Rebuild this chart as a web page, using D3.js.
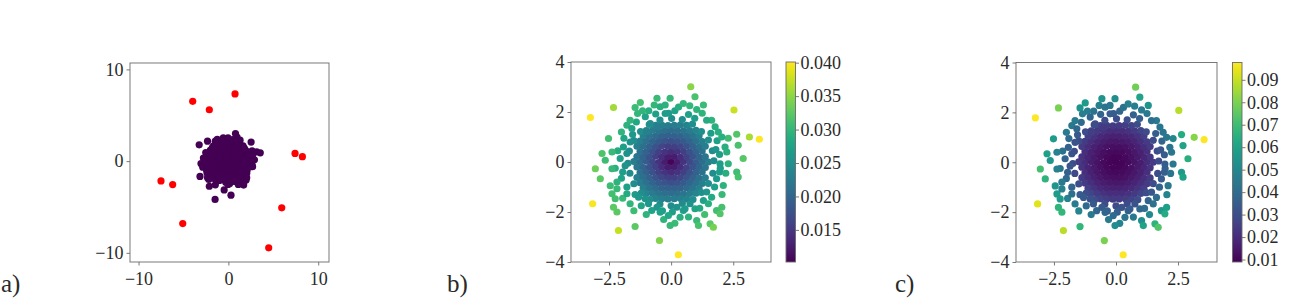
<!DOCTYPE html>
<html><head><meta charset="utf-8">
<script src="https://cdn.jsdelivr.net/npm/d3@7"></script>
<style>
body{margin:0;background:#fff}
svg text{font-family:"Liberation Serif","DejaVu Serif",serif;fill:#2a2a2a}
</style>
</head><body>
<svg id="fig" width="1299" height="299"></svg>
<script>
// ---------------- DATA ----------------
// cluster sample positions (shared by panels a, b, c)
const clusterXY = [
// core rows
[-1.50,0.02],[-1.25,-0.01],[-1.00,0.03],[-0.75,0.00],[-0.50,-0.02],[-0.25,0.01],[0.00,0.00],[0.25,-0.01],[0.50,0.02],[0.75,0.00],[1.00,-0.02],[1.25,0.01],[1.50,0.00],
[-1.375,0.22],[-1.125,0.20],[-0.875,0.21],[-0.625,0.23],[-0.375,0.20],[-0.125,0.21],[0.125,0.22],[0.375,0.19],[0.625,0.21],[0.875,0.22],[1.125,0.20],[1.375,0.21],
[-1.375,-0.20],[-1.125,-0.22],[-0.875,-0.21],[-0.625,-0.19],[-0.375,-0.21],[-0.125,-0.22],[0.125,-0.20],[0.375,-0.21],[0.625,-0.23],[0.875,-0.20],[1.125,-0.21],[1.375,-0.22],
[-1.25,0.42],[-1.00,0.41],[-0.75,0.43],[-0.50,0.42],[-0.25,0.40],[0.00,0.42],[0.25,0.43],[0.50,0.42],[0.75,0.41],[1.00,0.42],[1.25,0.44],
[-1.25,-0.43],[-1.00,-0.42],[-0.75,-0.41],[-0.50,-0.42],[-0.25,-0.44],[0.00,-0.42],[0.25,-0.41],[0.50,-0.42],[0.75,-0.43],[1.00,-0.42],[1.25,-0.40],
[-1.375,0.63],[-1.125,0.64],[-0.875,0.62],[-0.625,0.63],[-0.375,0.65],[-0.125,0.63],[0.125,0.62],[0.375,0.63],[0.625,0.64],[0.875,0.63],[1.125,0.61],[1.375,0.63],
[-1.375,-0.62],[-1.125,-0.63],[-0.875,-0.64],[-0.625,-0.63],[-0.375,-0.61],[-0.125,-0.63],[0.125,-0.64],[0.375,-0.63],[0.625,-0.62],[0.875,-0.63],[1.125,-0.65],[1.375,-0.63],
[-1.25,0.84],[-1.00,0.85],[-0.75,0.83],[-0.50,0.84],[-0.25,0.86],[0.00,0.84],[0.25,0.83],[0.50,0.84],[0.75,0.85],[1.00,0.84],[1.25,0.82],
[-1.25,-0.83],[-1.00,-0.84],[-0.75,-0.85],[-0.50,-0.84],[-0.25,-0.82],[0.00,-0.84],[0.25,-0.85],[0.50,-0.84],[0.75,-0.83],[1.00,-0.84],[1.25,-0.86],
[-1.125,1.05],[-0.875,1.06],[-0.625,1.04],[-0.375,1.05],[-0.125,1.07],[0.125,1.05],[0.375,1.04],[0.625,1.05],[0.875,1.06],[1.125,1.05],
[-1.125,-1.04],[-0.875,-1.05],[-0.625,-1.06],[-0.375,-1.05],[-0.125,-1.04],[0.125,-1.06],[0.375,-1.05],[0.625,-1.04],[0.875,-1.05],[1.125,-1.06],
[-1.00,1.26],[-0.75,1.27],[-0.50,1.25],[-0.25,1.26],[0.00,1.28],[0.25,1.26],[0.50,1.25],[0.75,1.26],[1.00,1.27],
[-1.00,-1.25],[-0.75,-1.26],[-0.50,-1.27],[-0.25,-1.26],[0.00,-1.25],[0.25,-1.26],[0.50,-1.28],[0.75,-1.26],[1.00,-1.25],
[-0.625,1.47],[-0.375,1.48],[-0.125,1.46],[0.125,1.47],[0.375,1.49],[0.625,1.47],
[-0.625,-1.46],[-0.375,-1.47],[-0.125,-1.48],[0.125,-1.47],[0.375,-1.46],[0.625,-1.48],
// ring around the core
[1.72,0.05],[1.66,0.45],[1.50,0.88],[1.22,1.22],[0.86,1.52],[0.45,1.70],[0.02,1.74],[-0.45,1.68],[-0.88,1.50],[-1.23,1.22],[-1.50,0.86],[-1.68,0.44],
[-1.74,-0.05],[-1.66,-0.45],[-1.50,-0.87],[-1.20,-1.24],[-0.86,-1.50],[-0.45,-1.68],[0.00,-1.75],[0.45,-1.66],[0.88,-1.50],[1.22,-1.22],[1.50,-0.86],[1.68,-0.45],
[1.95,0.30],[1.85,0.85],[0.70,1.90],[0.15,2.05],[-0.62,1.92],[-1.95,-0.40],[-1.90,0.95],[-1.20,-1.75],[0.05,-2.00],[1.15,-1.85],[1.95,-0.40],[-1.40,1.60],[-0.10,1.95],
[-0.90,2.05],[0.30,2.20],[0.75,2.25],[-1.15,2.05],[1.25,1.95],[1.98,-0.25],[2.20,-0.45],[1.75,-1.00],[2.05,-1.30],[2.30,0.95],
[-0.30,-2.30],[0.70,-2.20],[-1.00,-2.10],[-1.50,-1.95],[1.35,-2.10],[0.15,-2.45],[-2.00,-0.65],[-2.15,0.45],[-2.00,1.20],[-2.25,-0.25],
[-1.95,-1.45],[-2.45,-0.95],[1.80,0.50],[-1.85,-0.15],[-0.35,-1.95],[1.60,1.15],[-1.55,1.10],[-1.45,-1.30],[0.95,1.75],
// outer samples
[-1.45,2.18],[-1.24,2.38],[-1.35,1.94],[-0.57,2.55],[-0.04,2.55],[-0.68,2.28],[-0.44,2.21],[-1.65,1.67],[-1.78,1.47],[-1.58,1.34],
[-2.52,0.94],[-2.78,0.34],[-2.38,0.40],[-2.65,0.07],[-1.92,0.60],[-1.65,0.80],[-1.78,0.34],[-2.05,0.14],[-1.04,1.81],[-0.84,1.54],
[-0.98,1.20],[-0.51,1.41],[-0.24,2.28],[-0.24,1.94],[-3.25,1.78],[-2.32,2.18],[0.79,3.01],[0.96,2.61],[0.49,2.34],[1.30,2.28],
[1.03,2.10],[2.53,2.08],[1.63,1.67],[1.77,1.41],[1.90,1.20],[2.04,1.00],[2.17,0.60],[2.24,0.40],[2.64,1.11],[2.70,0.67],
[3.15,1.00],[3.55,0.91],[2.90,0.14],[1.43,1.67],[-3.16,-1.67],[-2.12,-2.74],[-1.45,-2.58],[-0.47,-3.14],[-0.04,-2.54],[-3.05,-0.27],
[-2.85,-0.67],[-2.38,-0.27],[-2.18,-0.80],[-2.38,-1.27],[-2.25,-1.47],[-2.32,-1.81],[-2.18,-2.00],[-1.78,-1.27],[-1.65,-1.67],[-1.31,-1.41],
[-1.04,-1.47],[-0.91,-1.67],[-0.78,-1.94],[-0.57,-1.81],[-0.44,-2.01],[-0.11,-2.14],[-2.18,-1.07],[-1.78,-1.00],[0.29,-3.71],[1.57,-2.47],
[1.70,-2.61],[1.83,-1.94],[1.97,-2.07],[2.04,-1.81],[1.03,-2.34],[1.10,-2.54],[0.49,-1.94],[0.36,-2.21],[2.64,-0.40],[2.70,-0.60],
[2.30,-0.07],[1.97,-0.07],[1.83,-0.67],[2.10,-0.94],[1.43,-1.20],[1.63,-1.41],[1.30,-1.54],[1.50,-1.67],[0.76,-1.67],[0.96,-1.87],
[0.56,-1.87],[0.23,-1.81]
];
// score shown in panel b (one per sample)
const scoreB = [
.0228,.0208,.0187,.0167,.0146,.0125,.0105,.0125,.0146,.0167,.0187,.0208,.0228,
.0219,.0198,.0179,.0159,.0140,.0125,.0125,.0140,.0159,.0179,.0198,.0219,
.0219,.0198,.0179,.0159,.0140,.0125,.0125,.0140,.0159,.0179,.0198,.0219,
.0213,.0194,.0176,.0158,.0145,.0139,.0145,.0158,.0176,.0194,.0213,
.0213,.0194,.0176,.0158,.0145,.0139,.0145,.0158,.0176,.0194,.0213,
.0229,.0211,.0194,.0178,.0165,.0157,.0157,.0165,.0178,.0194,.0211,.0229,
.0229,.0211,.0194,.0178,.0165,.0157,.0157,.0165,.0178,.0194,.0211,.0229,
.0229,.0212,.0198,.0185,.0177,.0174,.0177,.0185,.0198,.0212,.0229,
.0229,.0212,.0198,.0185,.0177,.0174,.0177,.0185,.0198,.0212,.0229,
.0231,.0217,.0205,.0196,.0192,.0192,.0196,.0205,.0217,.0231,
.0231,.0217,.0205,.0196,.0192,.0192,.0196,.0205,.0217,.0231,
.0237,.0226,.0217,.0210,.0208,.0210,.0217,.0226,.0237,
.0237,.0226,.0217,.0210,.0208,.0210,.0217,.0226,.0237,
.0236,.0230,.0226,.0226,.0230,.0236,
.0236,.0230,.0226,.0226,.0230,.0236,
.0246,.0246,.0248,.0247,.0249,.0249,.0248,.0248,.0248,.0247,.0247,.0248,
.0248,.0246,.0247,.0247,.0247,.0248,.0249,.0246,.0248,.0247,.0247,.0248,
.0267,.0272,.0271,.0274,.0271,.0268,.0279,.0279,.0269,.0284,.0268,.0280,.0265,
.0289,.0287,.0299,.0298,.0295,.0269,.0290,.0271,.0304,.0309,
.0295,.0294,.0296,.0307,.0310,.0306,.0277,.0285,.0296,.0290,
.0304,.0307,.0258,.0257,.0267,.0267,.0261,.0265,.0268,
.0306,.0310,.0299,.0305,.0302,.0300,.0290,.0298,.0294,.0275,
.0311,.0316,.0303,.0308,.0270,.0255,.0253,.0273,.0276,.0249,
.0232,.0228,.0293,.0265,.0401,.0360,.0348,.0315,.0301,.0306,
.0297,.0377,.0296,.0290,.0290,.0291,.0290,.0292,.0320,.0315,
.0362,.0400,.0322,.0285,.0398,.0375,.0326,.0345,.0302,.0335,
.0324,.0302,.0295,.0311,.0311,.0325,.0326,.0285,.0298,.0262,
.0253,.0261,.0276,.0261,.0274,.0281,.0304,.0272,.0400,.0324,
.0338,.0309,.0320,.0313,.0303,.0314,.0269,.0289,.0309,.0314,
.0294,.0267,.0265,.0294,.0258,.0282,.0271,.0289,.0255,.0277,
.0265,.0254
];
// score shown in panel c (one per sample)
const scoreC = [
.0244,.0198,.0161,.0132,.0112,.0099,.0095,.0099,.0112,.0132,.0161,.0198,.0244,
.0223,.0181,.0148,.0124,.0107,.0099,.0099,.0107,.0124,.0148,.0181,.0223,
.0223,.0181,.0148,.0124,.0107,.0099,.0099,.0107,.0124,.0148,.0181,.0223,
.0210,.0172,.0144,.0123,.0111,.0107,.0111,.0123,.0144,.0172,.0210,
.0210,.0172,.0144,.0123,.0111,.0107,.0111,.0123,.0144,.0172,.0210,
.0245,.0205,.0172,.0147,.0130,.0122,.0122,.0130,.0147,.0172,.0205,.0245,
.0245,.0205,.0172,.0147,.0130,.0122,.0122,.0130,.0147,.0172,.0205,.0245,
.0245,.0208,.0179,.0158,.0146,.0142,.0146,.0158,.0179,.0208,.0245,
.0245,.0208,.0179,.0158,.0146,.0142,.0146,.0158,.0179,.0208,.0245,
.0252,.0219,.0193,.0176,.0169,.0169,.0176,.0193,.0219,.0252,
.0252,.0219,.0193,.0176,.0169,.0169,.0176,.0193,.0219,.0252,
.0266,.0238,.0217,.0203,.0200,.0203,.0217,.0238,.0266,
.0266,.0238,.0217,.0203,.0200,.0203,.0217,.0238,.0266,
.0264,.0247,.0240,.0240,.0247,.0264,
.0264,.0247,.0240,.0240,.0247,.0264,
.0290,.0290,.0295,.0292,.0297,.0299,.0295,.0295,.0295,.0292,.0292,.0295,
.0295,.0290,.0292,.0292,.0292,.0295,.0297,.0290,.0295,.0292,.0292,.0295,
.0351,.0370,.0364,.0375,.0364,.0356,.0392,.0392,.0359,.0409,.0356,.0395,.0346,
.0426,.0420,.0466,.0460,.0450,.0359,.0429,.0364,.0485,.0504,
.0450,.0447,.0453,.0494,.0508,.0491,.0386,.0414,.0453,.0432,
.0485,.0552,.0326,.0323,.0354,.0351,.0333,.0346,.0356,
.0548,.0569,.0463,.0545,.0524,.0469,.0429,.0460,.0447,.0378,
.0573,.0590,.0478,.0558,.0362,.0316,.0311,.0372,.0383,.0297,
.0254,.0244,.0441,.0346,.0975,.0800,.0780,.0605,.0472,.0548,
.0456,.0880,.0453,.0432,.0429,.0436,.0429,.0438,.0635,.0605,
.0814,.0975,.0650,.0414,.0936,.0885,.0673,.0800,.0521,.0713,
.0662,.0475,.0450,.0576,.0573,.0666,.0673,.0412,.0460,.0338,
.0309,.0333,.0383,.0333,.0375,.0397,.0485,.0370,.0975,.0662,
.0733,.0566,.0635,.0587,.0528,.0601,.0359,.0426,.0566,.0601,
.0444,.0351,.0346,.0444,.0326,.0403,.0364,.0426,.0316,.0386,
.0346,.0314
];
// panel a: extra cluster sample and injected outliers
const strayXY = [[-1.48,-4.18]];
const outliersXY = [[-3.97,6.52],[-2.12,5.60],[0.74,7.33],[7.42,0.84],[8.24,0.48],
  [-7.50,-2.16],[-6.20,-2.56],[-5.08,-6.81],[5.94,-5.09],[4.49,-9.45]];
// tick labels
const ticksA = [-10, 0, 10];
const ticksBCx = [-2.5, 0.0, 2.5];
const ticksBCy = [-4, -2, 0, 2, 4];
const cbarTicksB = [0.015, 0.020, 0.025, 0.030, 0.035, 0.040];
const cbarTicksC = [0.01, 0.02, 0.03, 0.04, 0.05, 0.06, 0.07, 0.08, 0.09];
const cbarRangeB = [0.0102, 0.0401];
const cbarRangeC = [0.0089, 0.0977];
const panelLabels = ["a)", "b)", "c)"];

// ---------------- DRAWING ----------------
const svg = d3.select("#fig");
const FS = 18, R = 3.6, FRAME = "#6a6a6a";
const n = Math.min(clusterXY.length, scoreB.length, scoreC.length);
const defs = svg.append("defs");

function styleAxis(g) {
  g.select(".domain").remove();
  g.selectAll(".tick line").attr("stroke", FRAME).attr("stroke-width", 0.9);
  g.selectAll(".tick text").attr("font-size", FS).attr("fill", "#2a2a2a")
    .attr("font-family", '"Liberation Serif","DejaVu Serif",serif');
}

function panel(id, box, xd, yd, xt, yt, xf, yf) {
  const x = d3.scaleLinear().domain(xd).range([box.x0, box.x1]);
  const y = d3.scaleLinear().domain(yd).range([box.y1, box.y0]);
  defs.append("clipPath").attr("id", "clip" + id).append("rect")
    .attr("x", box.x0).attr("y", box.y0).attr("width", box.x1 - box.x0).attr("height", box.y1 - box.y0);
  const g = svg.append("g");
  const plot = g.append("g").attr("clip-path", `url(#clip${id})`);
  g.append("g").attr("transform", `translate(0,${box.y1})`)
    .call(d3.axisBottom(x).tickValues(xt).tickSize(3.5).tickPadding(6.5).tickFormat(xf)).call(styleAxis);
  g.append("g").attr("transform", `translate(${box.x0},0)`)
    .call(d3.axisLeft(y).tickValues(yt).tickSize(3.5).tickPadding(3).tickFormat(yf)).call(styleAxis);
  g.append("rect").attr("x", box.x0).attr("y", box.y0)
    .attr("width", box.x1 - box.x0).attr("height", box.y1 - box.y0)
    .attr("fill", "none").attr("stroke", FRAME).attr("stroke-width", 0.9);
  return {x, y, plot, g};
}

function colorbar(id, box, range, ticks, fmt) {
  const s = d3.scaleLinear().domain(range).range([box.y1, box.y0]);
  const grad = defs.append("linearGradient").attr("id", "grad" + id)
    .attr("x1", 0).attr("y1", 1).attr("x2", 0).attr("y2", 0);
  d3.range(0, 1.0001, 0.05).forEach(t => grad.append("stop")
    .attr("offset", t).attr("stop-color", d3.interpolateViridis(t)));
  svg.append("rect").attr("x", box.x0).attr("y", box.y0)
    .attr("width", box.x1 - box.x0).attr("height", box.y1 - box.y0)
    .attr("fill", `url(#grad${id})`).attr("stroke", FRAME).attr("stroke-width", 0.9);
  svg.append("g").attr("transform", `translate(${box.x1},0)`)
    .call(d3.axisRight(s).tickValues(ticks).tickSize(3.5).tickPadding(1.5).tickFormat(fmt)).call(styleAxis);
  return d3.scaleSequential(d3.interpolateViridis).domain(range);
}

const fmtInt = d3.format("d"), fmt1 = d3.format(".1f");

// panel a
{
  const p = panel("a", {x0:130, x1:329, y0:63, y1:262}, [-10.95, 11.2], [-11.0, 10.7],
    ticksA, ticksA, fmtInt, fmtInt);
  p.plot.selectAll("circle.c").data(clusterXY.concat(strayXY)).join("circle")
    .attr("cx", d => p.x(d[0])).attr("cy", d => p.y(d[1])).attr("r", R)
    .attr("fill", d3.interpolateViridis(0));
  p.plot.selectAll("circle.o").data(outliersXY).join("circle")
    .attr("cx", d => p.x(d[0])).attr("cy", d => p.y(d[1])).attr("r", R)
    .attr("fill", "#ff0000");
}
// panel b
{
  const p = panel("b", {x0:571, x1:771, y0:62, y1:262}, [-4.03, 4.02], [-4, 4],
    ticksBCx, ticksBCy, fmt1, fmtInt);
  const col = colorbar("b", {x0:786, x1:795.5, y0:62, y1:262}, cbarRangeB, cbarTicksB, d3.format(".3f"));
  p.plot.selectAll("circle").data(d3.range(n)).join("circle")
    .attr("cx", i => p.x(clusterXY[i][0])).attr("cy", i => p.y(clusterXY[i][1])).attr("r", R)
    .attr("fill", i => col(scoreB[i]));
}
// panel c
{
  const p = panel("c", {x0:1016, x1:1217, y0:62.5, y1:262}, [-4.03, 4.07], [-4, 4],
    ticksBCx, ticksBCy, fmt1, fmtInt);
  const col = colorbar("c", {x0:1232.5, x1:1242, y0:62.5, y1:262}, cbarRangeC, cbarTicksC, d3.format(".2f"));
  p.plot.selectAll("circle").data(d3.range(n)).join("circle")
    .attr("cx", i => p.x(clusterXY[i][0])).attr("cy", i => p.y(clusterXY[i][1])).attr("r", R)
    .attr("fill", i => col(scoreC[i]));
}
// panel letters
svg.selectAll("text.lbl").data(panelLabels).join("text")
  .attr("class", "lbl")
  .attr("x", (d, i) => [1, 447, 895][i]).attr("y", (d, i) => [292, 292, 292][i])
  .attr("font-size", 25).text(d => d);

if (clusterXY.length !== scoreB.length || clusterXY.length !== scoreC.length) {
  svg.append("text").attr("x", 5).attr("y", 20).attr("font-size", 14).attr("fill", "red")
    .text(`len mismatch ${clusterXY.length} ${scoreB.length} ${scoreC.length}`);
}
</script>
</body></html>
